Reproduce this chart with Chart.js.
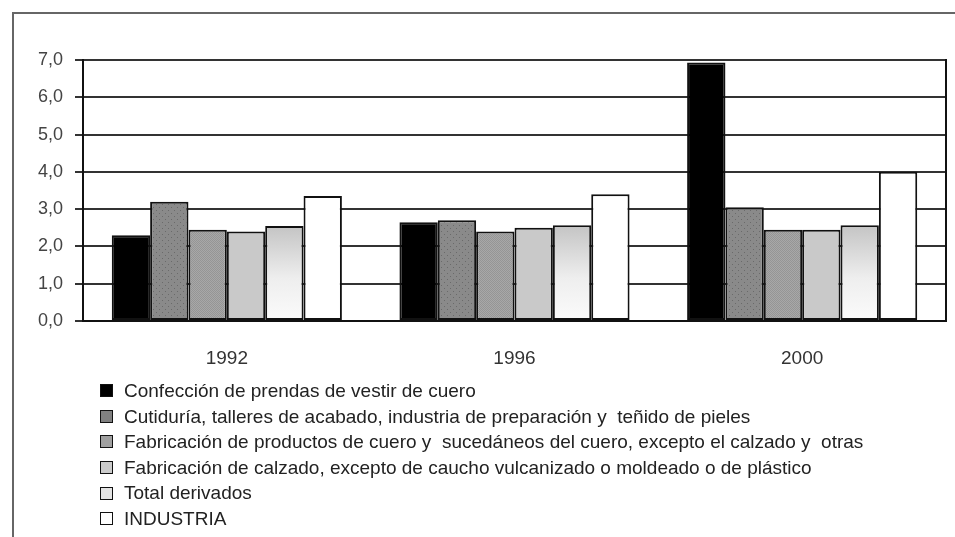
<!DOCTYPE html>
<html>
<head>
<meta charset="utf-8">
<script src="https://cdn.jsdelivr.net/npm/chart.js@4.4.1/dist/chart.umd.min.js"></script>
<style>
  html, body { margin: 0; padding: 0; background: #fff; }
  body { width: 955px; height: 537px; position: relative; overflow: hidden; font-family: "Liberation Sans", Arial, sans-serif; }
  #frame { position: absolute; left: 12px; top: 12px; right: -4px; bottom: -4px; border-top: 2px solid #666; border-left: 2px solid #666; }
  #wrap { position: absolute; left: 0; top: 0; width: 955px; height: 380px; }
  #legend { position: absolute; left: 100px; top: 378px; font-size: 19px; color: #222; }
  #legend .row { height: 25.6px; line-height: 25.6px; white-space: pre; display: flex; align-items: center; }
  #legend .box { width: 11px; height: 11px; border: 1.5px solid #111; margin-right: 11px; flex: none; }
</style>
</head>
<body>
<div id="frame"></div>
<div id="wrap"><canvas id="c" width="955" height="380"></canvas></div>
<div id="legend"></div>
<script>
const categories = ["1992", "1996", "2000"];
const seriesNames = [
  "Confección de prendas de vestir de cuero",
  "Cutiduría, talleres de acabado, industria de preparación y  teñido de pieles",
  "Fabricación de productos de cuero y  sucedáneos del cuero, excepto el calzado y  otras",
  "Fabricación de calzado, excepto de caucho vulcanizado o moldeado o de plástico",
  "Total derivados",
  "INDUSTRIA"
];
const confeccion = [2.3, 2.65, 6.93];
const curtiduria = [3.2, 2.7, 3.05];
const productos = [2.45, 2.4, 2.45];
const calzado = [2.4, 2.5, 2.45];
const totalDerivados = [2.55, 2.57, 2.57];
const industria = [3.35, 3.4, 4.0];
const yTicks = [0, 1, 2, 3, 4, 5, 6, 7];

function makePattern(w, h, draw) {
  const cv = document.createElement('canvas');
  cv.width = w; cv.height = h;
  const g = cv.getContext('2d');
  draw(g);
  return g.createPattern(cv, 'repeat');
}
const dotted = makePattern(6, 6, g => {
  g.fillStyle = '#8a8a8a'; g.fillRect(0, 0, 6, 6);
  g.fillStyle = '#6a6a6a'; g.fillRect(0, 0, 1, 1); g.fillRect(3, 3, 1, 1);
});
const hatched = makePattern(2, 2, g => {
  g.fillStyle = '#a8a8a8'; g.fillRect(0, 0, 2, 2);
  g.fillStyle = '#959595'; g.fillRect(0, 0, 1, 1); g.fillRect(1, 1, 1, 1);
});

function gradientFill(ctx) {
  const chart = ctx.chart;
  const y = chart.scales && chart.scales.y;
  if (!y || !chart.chartArea || ctx.raw === undefined) return '#dcdcdc';
  const top = y.getPixelForValue(ctx.raw);
  const bot = y.getPixelForValue(0);
  const g = chart.ctx.createLinearGradient(0, top, 0, bot);
  g.addColorStop(0, '#c4c4c4');
  g.addColorStop(0.55, '#eeeeee');
  g.addColorStop(1, '#fbfbfb');
  return g;
}

const seriesData = [confeccion, curtiduria, productos, calzado, totalDerivados, industria];
const fills = ['#000000', dotted, hatched, '#c9c9c9', gradientFill, '#ffffff'];
const legendFills = ['#000000', '#808080', '#a0a0a0', '#cccccc', '#e4e4e4', '#ffffff'];

const rightBorder = {
  id: 'rightBorder',
  afterDatasetsDraw(chart) {
    const { ctx, chartArea: a } = chart;
    ctx.save();
    ctx.strokeStyle = '#111';
    ctx.lineWidth = 2;
    ctx.beginPath();
    ctx.moveTo(a.right, a.top - 1);
    ctx.lineTo(a.right, a.bottom + 1);
    ctx.stroke();
    ctx.restore();
  }
};

new Chart(document.getElementById('c'), {
  type: 'bar',
  data: {
    labels: categories,
    datasets: seriesData.map((d, i) => ({
      label: seriesNames[i],
      data: d,
      backgroundColor: fills[i],
      borderColor: '#111',
      borderWidth: 2,
      borderSkipped: false,
      categoryPercentage: 0.8,
      barPercentage: 1.0
    }))
  },
  options: {
    responsive: false,
    animation: false,
    events: [],
    layout: { padding: { left: 0, top: 60, right: 9, bottom: 0 } },
    plugins: { legend: { display: false }, tooltip: { enabled: false } },
    scales: {
      x: {
        grid: { display: false, drawTicks: false },
        border: { display: true, color: '#111', width: 2 },
        ticks: { padding: 26, color: '#333', font: { family: 'Liberation Sans', size: 19 } },
        afterFit: s => { s.height = 59; }
      },
      y: {
        min: 0, max: 7,
        afterBuildTicks: s => { s.ticks = yTicks.map(v => ({ value: v })); },
        grid: { color: '#333', lineWidth: 2, drawTicks: true, tickLength: 8, tickColor: '#333' },
        border: { display: true, color: '#111', width: 2 },
        ticks: {
          padding: 12, color: '#444',
          font: { family: 'Liberation Sans', size: 18 },
          callback: v => v.toFixed(1).replace('.', ',')
        },
        afterFit: s => { s.width = 83; }
      }
    }
  },
  plugins: [rightBorder]
});

const leg = document.getElementById('legend');
seriesNames.forEach((n, i) => {
  const row = document.createElement('div');
  row.className = 'row';
  const b = document.createElement('span');
  b.className = 'box';
  b.style.background = legendFills[i];
  const t = document.createElement('span');
  t.textContent = n;
  row.appendChild(b); row.appendChild(t);
  leg.appendChild(row);
});
</script>
</body>
</html>
